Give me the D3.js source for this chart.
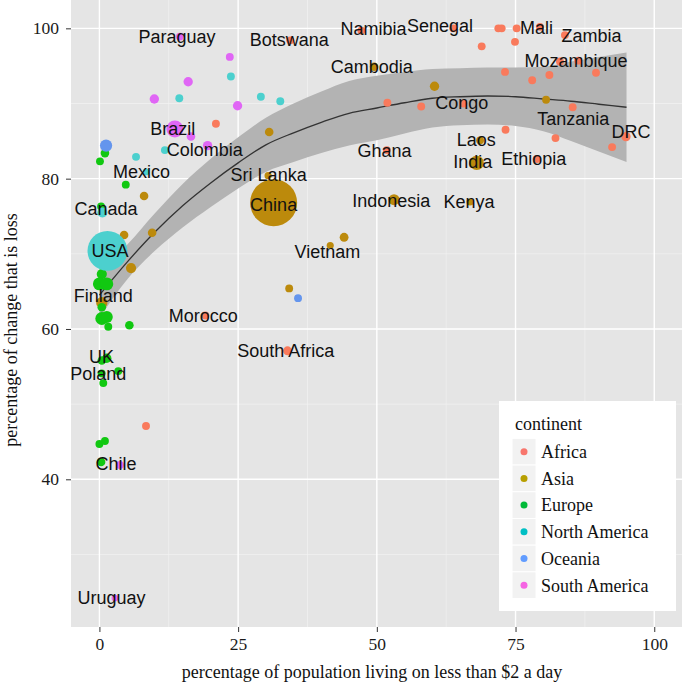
<!DOCTYPE html>
<html><head><meta charset="utf-8">
<script src="https://cdn.jsdelivr.net/npm/d3@7"></script>
<style>body{margin:0;background:#fff}svg{display:block}</style>
</head><body><svg id="c" width="682" height="683"></svg>
<script>
// ---- data: [poverty %, loss %, size] ----
const continents = ["Africa","Asia","Europe","North America","Oceania","South America"];
const pointColors = ["#F97A5C","#BC8A0C","#11C811","#4CD0CE","#6495ED","#E066F5"];
const legendColors = ["#F8766D","#B79F00","#00BA38","#00BFC4","#619CFF","#F564E3"];
const africa = [[47.2,99.7,2.7],[34.4,98.4,2.7],[63.8,100.0,2.7],[71.9,100.0,2.7],[72.5,100.0,2.7],[75.2,100.0,2.7],[79.4,100.2,2.7],[68.9,97.6,2.7],[74.9,98.2,2.7],[83.9,99.1,2.7],[83.0,95.6,2.7],[86.3,95.7,2.7],[73.1,94.2,2.7],[78.0,93.1,2.7],[81.1,93.8,2.7],[89.5,94.1,2.7],[51.9,90.1,2.7],[58.0,89.6,2.7],[65.6,90.0,2.7],[85.3,89.5,2.7],[73.2,86.5,2.7],[82.2,85.4,2.7],[94.9,85.6,3.8],[92.4,84.2,2.7],[78.8,82.6,2.7],[51.8,83.8,2.7],[19.1,61.8,2.7],[33.9,57.1,3.4],[8.4,47.1,2.7],[21.0,87.3,2.7]];
const asia = [[49.5,94.9,3.2],[60.4,92.3,3.8],[80.5,90.5,2.7],[68.6,85.1,2.7],[68.0,82.1,9.0],[53.1,77.2,5.3],[66.8,76.9,2.2],[31.4,76.8,96],[30.4,80.4,2.2],[41.6,71.1,2.2],[44.1,72.2,3.4],[34.2,65.4,2.7],[4.45,72.5,3.2],[9.5,72.8,3.2],[5.7,68.1,4.5],[8.05,77.7,3.2],[0.43,63.5,5.5],[30.6,86.2,3.2]];
const europe = [[1.0,83.4,3.2],[0.1,82.3,2.7],[4.75,79.2,2.7],[0.3,76.3,2.7],[0.43,67.3,4.5],[0.0,66.0,7.3],[1.33,66.0,7.3],[0.43,62.9,3.2],[0.43,61.4,7.3],[1.33,61.6,6.25],[1.6,60.3,2.7],[5.4,60.5,3.2],[0.43,55.8,3.2],[1.33,56.1,3.8],[3.4,54.4,2.7],[0.4,54.1,2.7],[0.7,52.8,2.7],[0.0,44.7,2.7],[1.0,45.1,2.7],[0.3,42.3,3.2]];
const northAmerica = [[1.45,70.4,69],[0.54,75.5,4.5],[6.6,82.9,2.7],[8.4,80.9,2.0],[23.7,93.6,2.7],[14.4,90.7,2.7],[29.1,90.9,2.7],[32.6,90.3,2.7],[11.8,83.8,2.7]];
const oceania = [[1.2,84.4,6.5],[35.8,64.1,2.7]];
const southAmerica = [[14.5,98.9,2.7],[23.5,96.2,2.7],[16.0,92.9,3.8],[9.9,90.6,3.8],[24.9,89.7,3.8],[13.6,86.6,12.5],[16.5,85.6,3.2],[19.5,84.4,3.8],[3.7,41.9,2.7],[2.8,24.2,2.0]];
const series = [africa, asia, europe, northAmerica, oceania, southAmerica];

const labelNames = ["Paraguay","Botswana","Namibia","Senegal","Mali","Zambia","Mozambique","Cambodia","Congo","Tanzania","DRC","Laos","India","Ethiopia","Ghana","Indonesia","Kenya","China","Sri Lanka","Vietnam","Morocco","South Africa","USA","Finland","UK","Poland","Chile","Uruguay","Canada","Mexico","Brazil","Colombia"];
const labelX = [14.0,34.2,49.4,61.4,78.8,88.7,85.9,49.1,65.3,85.4,95.8,67.9,67.3,78.3,51.4,52.6,66.6,31.4,30.5,41.1,18.7,33.6,1.9,0.7,0.4,-0.2,3.0,2.2,1.2,7.6,13.2,19.0];
const labelY = [98.9,98.5,99.9,100.3,100.1,99.0,95.7,94.9,90.1,88.0,86.2,85.2,82.2,82.6,83.7,77.1,77.0,76.6,80.5,70.3,61.8,57.1,70.4,64.4,56.3,54.0,42.1,24.2,76.0,80.9,86.6,83.8];

// loess smooth
const smoothX = [0,5,10,15,20,25,30,35,40,45,50,55,60,65,70,75,80,85,90,95];
const smoothY = [64.5,68.9,72.9,76.4,79.4,82.1,84.5,86.1,87.5,88.7,89.4,90.1,90.7,90.9,91.0,90.9,90.6,90.3,89.9,89.5];
const smoothSE = [3.0,2.3,2.5,2.9,3.2,3.4,3.6,3.9,4.1,4.3,4.3,4.1,3.9,3.8,3.8,3.9,4.3,5.3,6.3,7.3];

const xTicks = [0,25,50,75,100], xMinor = [12.5,37.5,62.5,87.5];
const yTicks = [40,60,80,100], yMinor = [30,50,70,90];

// ---- drawing ----
const svg = d3.select("#c");
const P = {l:71, r:682, t:0, b:627};
const x = d3.scaleLinear().domain([-5.12,105.0]).range([P.l,P.r]);
const y = d3.scaleLinear().domain([20.35,103.77]).range([P.b,P.t]);
const rad = d3.scaleSqrt().domain([0,100]).range([0,24]);

svg.append("rect").attr("x",P.l).attr("y",P.t).attr("width",P.r-P.l).attr("height",P.b-P.t).attr("fill","#e5e5e5");
const g = svg.append("g");
xMinor.forEach(v=>g.append("line").attr("x1",x(v)).attr("x2",x(v)).attr("y1",P.t).attr("y2",P.b).attr("stroke","#f2f2f2").attr("stroke-width",0.7));
yMinor.forEach(v=>g.append("line").attr("y1",y(v)).attr("y2",y(v)).attr("x1",P.l).attr("x2",P.r).attr("stroke","#f2f2f2").attr("stroke-width",0.7));
xTicks.forEach(v=>g.append("line").attr("x1",x(v)).attr("x2",x(v)).attr("y1",P.t).attr("y2",P.b).attr("stroke","#fff").attr("stroke-width",1.4));
yTicks.forEach(v=>g.append("line").attr("y1",y(v)).attr("y2",y(v)).attr("x1",P.l).attr("x2",P.r).attr("stroke","#fff").attr("stroke-width",1.4));

// axes
const xAxis = d3.axisBottom(x).tickValues(xTicks).tickSize(5).tickPadding(6).tickFormat(d3.format("d"));
const xa = svg.append("g").attr("transform",`translate(0,${P.b})`).call(xAxis);
xa.select(".domain").remove();
xa.selectAll("line").attr("stroke","#333");
xa.selectAll("text").attr("font-family","'Liberation Serif',serif").attr("font-size",17.5).attr("fill","#1a1a1a");
const yAxis = d3.axisLeft(y).tickValues(yTicks).tickSize(5).tickPadding(7).tickFormat(d3.format("d"));
const ya = svg.append("g").attr("transform",`translate(${P.l},0)`).call(yAxis);
ya.select(".domain").remove();
ya.selectAll("line").attr("stroke","#333");
ya.selectAll("text").attr("font-family","'Liberation Serif',serif").attr("font-size",17.5).attr("fill","#1a1a1a");

svg.append("text").attr("x",372).attr("y",678).attr("text-anchor","middle")
  .attr("font-family","'Liberation Serif',serif").attr("font-size",18).attr("fill","#111")
  .text("percentage of population living on less than $2 a day");
svg.append("text").attr("transform","translate(17,330) rotate(-90)").attr("text-anchor","middle")
  .attr("font-family","'Liberation Serif',serif").attr("font-size",18).attr("fill","#111")
  .text("percentage of change that is loss");

// smooth band + line
const sm = smoothX.map((v,i)=>({x:v,y:smoothY[i],se:smoothSE[i]}));
svg.append("path").datum(sm).attr("fill","#b3b3b3")
  .attr("d",d3.area().curve(d3.curveMonotoneX).x(d=>x(d.x)).y0(d=>y(d.y-d.se)).y1(d=>y(d.y+d.se)));
svg.append("path").datum(sm).attr("fill","none").attr("stroke","#333").attr("stroke-width",1.3)
  .attr("d",d3.line().curve(d3.curveMonotoneX).x(d=>x(d.x)).y(d=>y(d.y)));

// points
series.forEach((s,i)=>{
  svg.append("g").selectAll("circle").data(s).join("circle")
    .attr("cx",d=>x(d[0])).attr("cy",d=>y(d[1])).attr("r",d=>rad(d[2]))
    .attr("fill",pointColors[i]);
});

// labels
svg.append("g").selectAll("text").data(labelNames).join("text")
  .attr("x",(d,i)=>x(labelX[i])).attr("y",(d,i)=>y(labelY[i])).attr("dy","0.35em")
  .attr("text-anchor","middle").attr("font-family","'Liberation Sans',Arial,sans-serif")
  .attr("font-size",18).attr("fill","#111").text(d=>d);

// legend
const L = svg.append("g");
L.append("rect").attr("x",499).attr("y",401).attr("width",177).attr("height",210).attr("fill","#fff");
L.append("text").attr("x",515).attr("y",424).attr("dy","0.35em").attr("font-family","'Liberation Serif',serif")
  .attr("font-size",18).attr("fill","#111").text("continent");
continents.forEach((c,i)=>{
  const cy = 451.7 + i*26.7;
  L.append("rect").attr("x",512).attr("y",cy-13.35).attr("width",24).attr("height",26.7)
    .attr("fill","#f2f2f2").attr("stroke","#fff").attr("stroke-width",1);
  L.append("circle").attr("cx",524).attr("cy",cy).attr("r",3.5).attr("fill",legendColors[i]);
  L.append("text").attr("x",541).attr("y",cy).attr("dy","0.35em").attr("font-family","'Liberation Serif',serif")
    .attr("font-size",18).attr("fill","#111").text(c);
});
</script></body></html>
